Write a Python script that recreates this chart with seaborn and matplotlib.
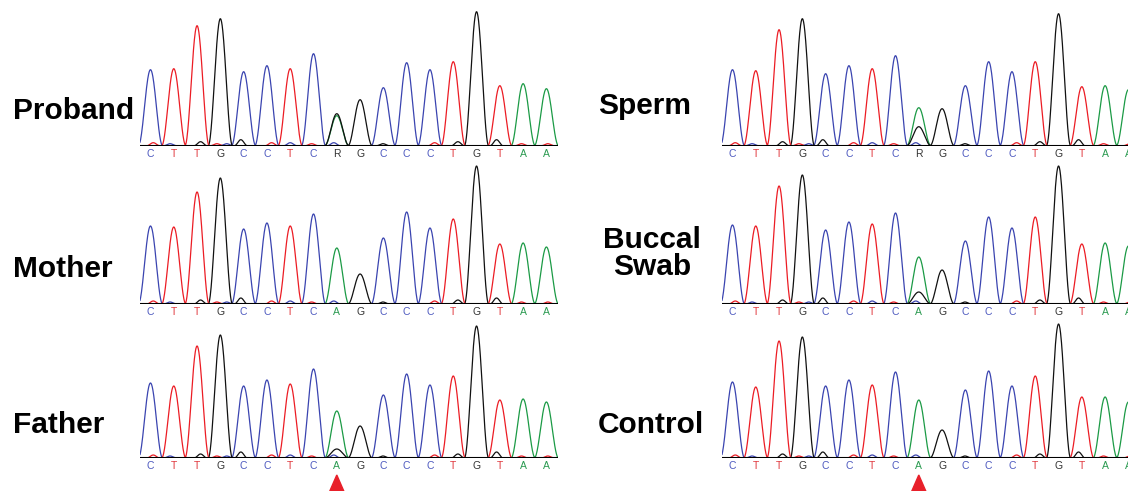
import numpy as np
import pandas as pd
import matplotlib
matplotlib.use("Agg")
import matplotlib.pyplot as plt
from matplotlib.patches import Polygon
import seaborn as sns

# Called bases (R = A/G heterozygous call)
REF_SEQ = list("CTTGCCTCAGCCCTGTAA")
HET_SEQ = list("CTTGCCTCRGCCCTGTAA")
VARIANT_INDEX = 8

# Main peak heights, one per base (channel given by REF_SEQ)
proband = [76, 77, 120, 127, 74, 80, 77, 92, 30, 46, 58, 83, 76, 84, 134, 60, 62, 57]
mother = [78, 77, 112, 126, 75, 81, 78, 90, 56, 30, 66, 92, 76, 85, 138, 60, 61, 57]
father = [75, 72, 112, 123, 72, 78, 74, 89, 47, 32, 63, 84, 73, 82, 132, 58, 59, 56]
sperm = [76, 75, 116, 127, 72, 80, 77, 90, 38, 37, 60, 84, 74, 84, 132, 59, 60, 56]
buccal = [79, 78, 118, 129, 74, 82, 80, 91, 47, 34, 63, 87, 76, 87, 138, 60, 61, 58]
control = [76, 71, 117, 121, 72, 78, 73, 86, 58, 28, 68, 87, 72, 82, 134, 61, 61, 56]

# Extra G-channel signal under the variant position
proband_alt = 32
mother_alt = 0
father_alt = 9
sperm_alt = 19
buccal_alt = 12
control_alt = 0

# Small background bumps shared by all traces
minor_pos = [0.12, 0.84, 2.15, 2.85, 3.27, 3.88, 5.2, 6.0, 6.92, 7.87, 9.98, 12.2, 13.2, 14.86, 15.93, 17.06]
minor_ch = ["T", "C", "G", "T", "C", "G", "T", "C", "T", "C", "G", "T", "G", "G", "T", "T"]
minor_h = [3, 2, 4, 2, 2, 6, 3, 3, 2, 3, 2, 3, 4, 6, 2, 2]

TRACE_COLORS = {"A": "#1b9a45", "C": "#3a44b0", "G": "#111111", "T": "#ec1c24"}
LETTER_COLORS = {"A": "#2a9a50", "C": "#4d59bf", "G": "#333333", "T": "#e0393e", "R": "#333333"}

W, H = 1128, 491
X0, X1 = -0.45, 17.5
ROW_H = 145


def peak(x, c, h, w=1.0):
    d = np.abs(x - c)
    return np.where(d < w / 2, h * np.cos(np.pi * (x - c) / w) ** 2, 0.0)


def build_traces(heights, alt):
    x = np.linspace(X0, X1, 1400)
    sig = {ch: np.zeros_like(x) for ch in "ACGT"}
    for i, (b, h) in enumerate(zip(REF_SEQ, heights)):
        sig[b] += peak(x, i, h, 1.04)
    sig["G"] += peak(x, VARIANT_INDEX, alt, 1.04)
    for p, ch, h in zip(minor_pos, minor_ch, minor_h):
        sig[ch] += peak(x, p, h, 0.55)
    frames = [pd.DataFrame({"x": x, "signal": s, "channel": ch}) for ch, s in sig.items()]
    return pd.concat(frames, ignore_index=True)


def draw_panel(fig, left_px, base_px, heights, alt, seq, marker):
    width_px = (X1 - X0) * 23.29
    ax = fig.add_axes([left_px / W, 1 - base_px / H, width_px / W, ROW_H / H])
    df = build_traces(heights, alt)
    sns.lineplot(data=df, x="x", y="signal", hue="channel", palette=TRACE_COLORS,
                 estimator=None, legend=False, linewidth=0.9, ax=ax)
    ax.axhline(0, color="black", lw=1.5, zorder=5)
    for i, b in enumerate(seq):
        ax.text(i, -8, b, ha="center", va="center", fontsize=7.5,
                color=LETTER_COLORS[b], clip_on=False)
    if marker:
        tri = Polygon([[VARIANT_INDEX - 0.43, -40], [VARIANT_INDEX + 0.43, -40],
                       [VARIANT_INDEX, -17]], closed=True, color="#e8202a", clip_on=False)
        ax.add_patch(tri)
    ax.set_xlim(X0, X1)
    ax.set_ylim(0, ROW_H)
    ax.axis("off")
    return ax


sns.set_style("white")
plt.rcParams["font.family"] = ["Liberation Sans", "DejaVu Sans"]

fig = plt.figure(figsize=(W / 100, H / 100), dpi=100)

draw_panel(fig, 140, 145.7, proband, proband_alt, HET_SEQ, False)
draw_panel(fig, 140, 304, mother, mother_alt, REF_SEQ, False)
draw_panel(fig, 140, 458, father, father_alt, REF_SEQ, True)
draw_panel(fig, 722, 145.7, sperm, sperm_alt, HET_SEQ, False)
draw_panel(fig, 722, 304, buccal, buccal_alt, REF_SEQ, False)
draw_panel(fig, 722, 458, control, control_alt, REF_SEQ, True)

label_kw = dict(fontsize=21.5, fontweight="bold", va="baseline", color="black")
fig.text(13 / W, 1 - 119.3 / H, "Proband", ha="left", **label_kw)
fig.text(13 / W, 1 - 276.7 / H, "Mother", ha="left", **label_kw)
fig.text(13 / W, 1 - 432.7 / H, "Father", ha="left", **label_kw)
fig.text(598 / W, 1 - 113.5 / H, "Sperm", ha="left", **label_kw)
fig.text(652 / W, 1 - 247.7 / H, "Buccal", ha="center", **label_kw)
fig.text(652 / W, 1 - 275 / H, "Swab", ha="center", **label_kw)
fig.text(598 / W, 1 - 432.7 / H, "Control", ha="left", **label_kw)

fig.savefig("out.png", dpi=100)
